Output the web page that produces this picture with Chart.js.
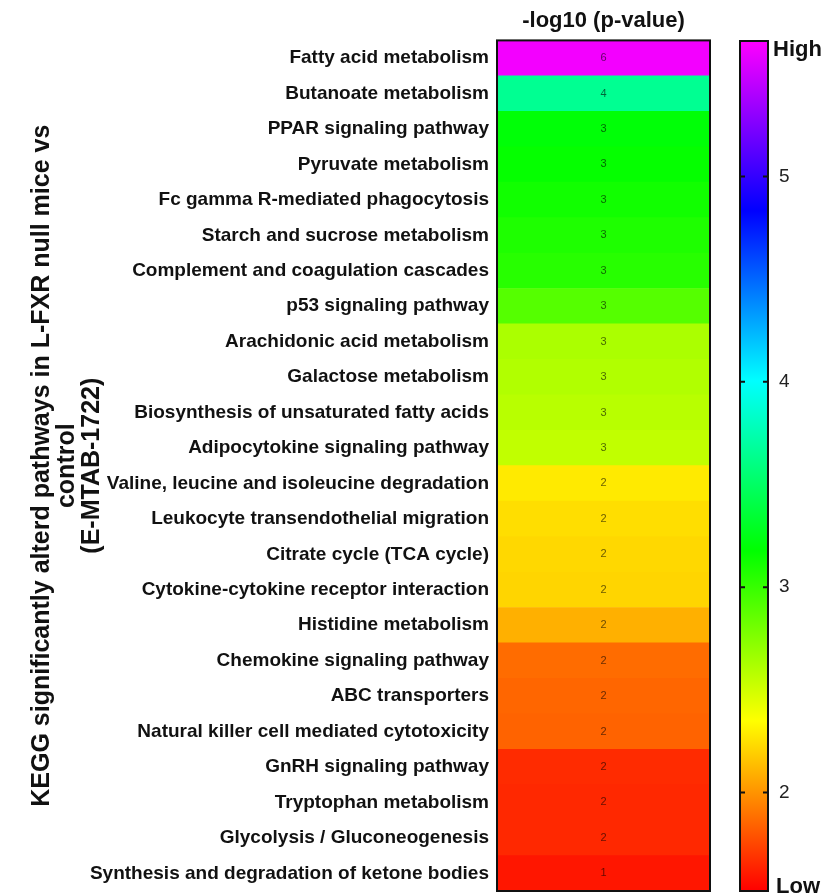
<!DOCTYPE html>
<html lang="en">
<head>
  <meta charset="UTF-8">
  <title>KEGG pathways heatmap</title>
  <script src="https://cdn.jsdelivr.net/npm/chart.js"></script>
  <style>
    html, body { margin: 0; padding: 0; background: #fff; overflow: hidden; }
    #wrap { position: relative; width: 825px; height: 894px; }
    #heat { position: absolute; left: 0; top: 0; width: 720px; height: 894px; }
    #bar { position: absolute; left: 700px; top: 0; width: 125px; height: 894px; }
  </style>
</head>
<body>
  <div id="wrap">
    <canvas id="heat" width="720" height="894"></canvas>
    <canvas id="bar" width="125" height="894"></canvas>
  </div>

  <script>
    const pathways = [
      "Fatty acid metabolism",
      "Butanoate metabolism",
      "PPAR signaling pathway",
      "Pyruvate metabolism",
      "Fc gamma R-mediated phagocytosis",
      "Starch and sucrose metabolism",
      "Complement and coagulation cascades",
      "p53 signaling pathway",
      "Arachidonic acid metabolism",
      "Galactose metabolism",
      "Biosynthesis of unsaturated fatty acids",
      "Adipocytokine signaling pathway",
      "Valine, leucine and isoleucine degradation",
      "Leukocyte transendothelial migration",
      "Citrate cycle (TCA cycle)",
      "Cytokine-cytokine receptor interaction",
      "Histidine metabolism",
      "Chemokine signaling pathway",
      "ABC transporters",
      "Natural killer cell mediated cytotoxicity",
      "GnRH signaling pathway",
      "Tryptophan metabolism",
      "Glycolysis / Gluconeogenesis",
      "Synthesis and degradation of ketone bodies"
    ];
    // -log10(p)
    const logP = [5.62, 3.65, 3.2, 3.16, 3.12, 3.08, 3.05, 2.9, 2.62, 2.6, 2.58, 2.55,
                  2.28, 2.24, 2.22, 2.21, 2.09, 1.87, 1.85, 1.84, 1.66, 1.65, 1.65, 1.59];
    // numbers printed in the cells
    const cellLabels = [6, 4, 3, 3, 3, 3, 3, 3, 3, 3, 3, 3, 2, 2, 2, 2, 2, 2, 2, 2, 2, 2, 2, 1];
    const scaleRange = [1.52, 5.66];
    const scaleTicks = [2, 3, 4, 5];

    const family = '"Liberation Sans", Arial, Helvetica, sans-serif';

    function heatColor(v) {
      const t = Math.min(1, Math.max(0, (v - scaleRange[0]) / (scaleRange[1] - scaleRange[0])));
      return `hsl(${t * 300}, 100%, 50%)`;
    }

    const frame = {
      id: "frame",
      afterDatasetsDraw(chart) {
        const { ctx, chartArea: a } = chart;
        ctx.save();
        ctx.strokeStyle = "#111";
        ctx.lineWidth = 2;
        ctx.strokeRect(a.left, a.top, a.right - a.left, a.bottom - a.top);
        ctx.restore();
      }
    };

    const cellText = {
      id: "cellText",
      afterDatasetsDraw(chart) {
        const { ctx } = chart;
        ctx.save();
        ctx.font = "11px " + family;
        ctx.fillStyle = "rgba(0,0,0,0.6)";
        ctx.textAlign = "center";
        ctx.textBaseline = "middle";
        chart.getDatasetMeta(0).data.forEach((bar, i) => {
          const p = bar.getCenterPoint();
          ctx.fillText(cellLabels[i], p.x, p.y);
        });
        ctx.restore();
      }
    };

    // keep tick labels from shrinking the plot area
    function noEdgePadding(s) {
      s.paddingTop = 0;
      s.paddingBottom = 0;
    }

    new Chart(document.getElementById("heat"), {
      type: "bar",
      data: {
        labels: pathways,
        datasets: [{
          data: pathways.map(() => [0, 1]),
          backgroundColor: logP.map(heatColor),
          borderWidth: 0,
          barPercentage: 1,
          categoryPercentage: 1
        }]
      },
      options: {
        indexAxis: "y",
        responsive: false,
        animation: false,
        layout: { padding: { left: 30, right: 10, top: 0, bottom: 3 } },
        plugins: {
          legend: { display: false },
          tooltip: { enabled: false },
          title: {
            display: true,
            text: "-log10 (p-value)",
            fullSize: false,
            color: "#111",
            font: { family, size: 22, weight: "bold", lineHeight: 1.2 },
            padding: { top: 8, bottom: 6 }
          }
        },
        scales: {
          x: { display: false, min: 0, max: 1 },
          y: {
            grid: { display: false, drawTicks: false },
            border: { display: false },
            ticks: { color: "#111", font: { family, size: 19, weight: "bold" }, padding: 8, autoSkip: false },
            title: {
              display: true,
              text: ["KEGG significantly alterd pathways in L-FXR null mice vs", "control", "(E-MTAB-1722)"],
              color: "#111",
              font: { family, size: 25, weight: "bold", lineHeight: 1.0 },
              padding: 0
            },
            afterFit(s) {
              s.width = 497 - 30;
              noEdgePadding(s);
            }
          }
        }
      },
      plugins: [cellText, frame]
    });

    const tickMarks = {
      id: "tickMarks",
      afterDatasetsDraw(chart) {
        const { ctx, chartArea: a } = chart;
        const y = chart.scales.y;
        ctx.save();
        ctx.strokeStyle = "#111";
        ctx.lineWidth = 2;
        scaleTicks.forEach(v => {
          const py = y.getPixelForValue(v);
          ctx.beginPath();
          ctx.moveTo(a.left, py); ctx.lineTo(a.left + 5, py);
          ctx.moveTo(a.right - 5, py); ctx.lineTo(a.right, py);
          ctx.stroke();
        });
        ctx.font = "bold 22px " + family;
        ctx.fillStyle = "#111";
        ctx.textAlign = "left";
        ctx.textBaseline = "top";
        ctx.fillText("High", a.right + 5, a.top - 2);
        ctx.textBaseline = "alphabetic";
        ctx.fillText("Low", a.right + 8, a.bottom + 2);
        ctx.restore();
      }
    };

    new Chart(document.getElementById("bar"), {
      type: "bar",
      data: {
        labels: [""],
        datasets: [{
          data: [scaleRange],
          backgroundColor(c) {
            const a = c.chart.chartArea;
            if (!a) return "#f00";
            const g = c.chart.ctx.createLinearGradient(0, a.bottom, 0, a.top);
            ["#ff0000", "#ffff00", "#00ff00", "#00ffff", "#0000ff", "#ff00ff"]
              .forEach((col, i) => g.addColorStop(i / 5, col));
            return g;
          },
          borderWidth: 0,
          barPercentage: 1,
          categoryPercentage: 1
        }]
      },
      options: {
        responsive: false,
        animation: false,
        layout: { padding: { left: 40, right: 0, top: 41, bottom: 3 } },
        plugins: { legend: { display: false }, tooltip: { enabled: false } },
        scales: {
          x: { display: false },
          y: {
            position: "right",
            min: scaleRange[0],
            max: scaleRange[1],
            afterBuildTicks(s) { s.ticks = scaleTicks.map(v => ({ value: v })); },
            grid: { display: false, drawTicks: false },
            border: { display: false },
            ticks: { color: "#222", font: { family, size: 19 }, padding: 11 },
            afterFit(s) {
              s.width = 57;
              noEdgePadding(s);
            }
          }
        }
      },
      plugins: [tickMarks, frame]
    });
  </script>
</body>
</html>
